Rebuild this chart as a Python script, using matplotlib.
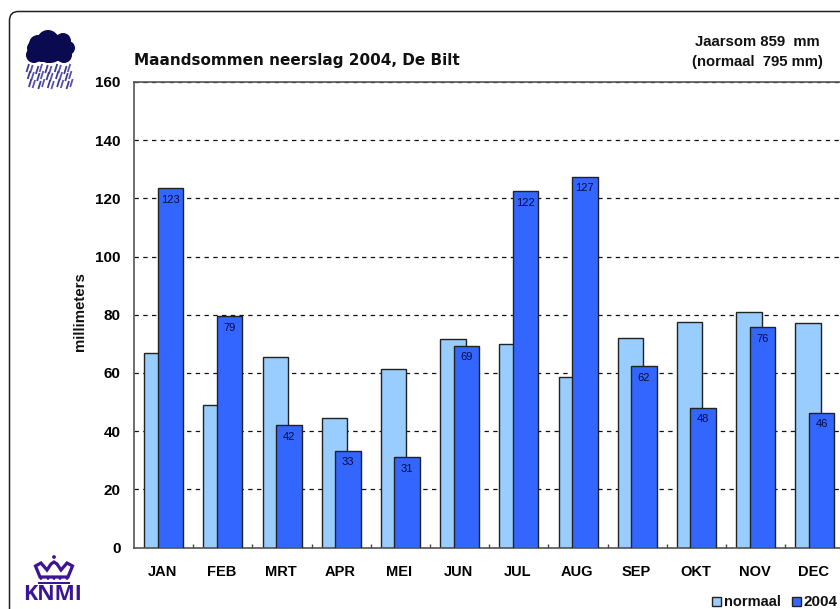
import numpy as np
from matplotlib import pyplot as plt
from matplotlib.patches import FancyBboxPatch, Circle, Rectangle, Polygon

plt.rcParams["font.family"] = ["Liberation Sans", "DejaVu Sans"]
plt.rcParams["font.weight"] = "bold"

#  -------------------------------------------  data  ------------------------------------------  #

months = ["JAN", "FEB", "MRT", "APR", "MEI", "JUN", "JUL", "AUG", "SEP", "OKT", "NOV", "DEC"]
normaal = [67, 49, 65.5, 44.5, 61.5, 71.5, 70, 58.5, 72, 77.5, 81, 77]
jaar2004 = [123.4, 79.4, 42, 33.3, 31, 69.3, 122.4, 127.3, 62.3, 48, 75.7, 46.4]
yticks = [0, 20, 40, 60, 80, 100, 120, 140, 160]

#  -------------------------------------------  plot  ------------------------------------------  #

W, H = 840, 609
fig = plt.figure(figsize=(W/100, H/100), dpi=100)

# overlay in pixel coordinates for frame and logos
bg = fig.add_axes([0, 0, 1, 1])
bg.set_xlim(0, W)
bg.set_ylim(H, 0)
bg.axis("off")
bg.add_patch(FancyBboxPatch((9.5, 11.5), 900, 700, boxstyle="round,pad=0,rounding_size=9",
                            fc="white", ec="#222222", lw=1.1))

# cloud
cloud = "#0a0a50"
for cx, cy, r in [(48, 41, 11), (38, 44, 9), (34, 48, 7), (34, 55, 8), (48, 55, 8), (63, 41, 8),
                  (68, 48, 7), (64, 55, 8), (50, 48, 15), (42, 50, 12), (59, 49, 12)]:
    bg.add_patch(Circle((cx, cy), r, fc=cloud, ec="none"))
# rain
for row, y0 in enumerate([64, 71, 79]):
    for k in range(10):
        x0 = 28 + k*4.7 + row*1.2 - (k % 2)
        col = "#5a50b0" if k % 2 else "#3c3c90"
        bg.plot([x0+1, x0-1.5], [y0+(k % 3), y0+8+(k % 3)], color=col, lw=1.3, solid_capstyle="butt")

# crown and KNMI
knmi = "#3c1496"
bg.add_patch(Polygon([(40, 577), (35.5, 566), (41, 563), (47, 570), (51, 564), (54, 562), (57, 564), (61, 570),
                      (67, 563), (72.5, 566), (68, 577)],
                     closed=True, fc="none", ec=knmi, lw=2.3))
bg.add_patch(Circle((54, 557), 1.9, fc=knmi, ec="none"))
bg.add_patch(Rectangle((38, 582), 32, 2.2, fc=knmi, ec="none"))
for xc in (41, 48, 54, 60, 67):
    bg.add_patch(Circle((xc, 578.5), 1.4, fc=knmi, ec="none"))
bg.text(53, 595, "KNMI", color=knmi, fontsize=15.5, ha="center", va="center", fontweight="bold",
        family=["Open Sans", "DejaVu Sans"])

# main axes, runs off the right edge of the picture like the original
ax_l, ax_r, ax_t, ax_b = 134, 844.5, 82, 547.5
ax = fig.add_axes([ax_l/W, 1-ax_b/H, (ax_r-ax_l)/W, (ax_b-ax_t)/H])
ax.patch.set_alpha(0)

x = np.arange(12)
w = 25.5/59.2
off = 6.75/59.2
ax.bar(x-off, normaal, w, color="#99ccff", edgecolor="#222222", lw=1, zorder=2, label="normaal")
ax.bar(x+off, jaar2004, w, color="#3366ff", edgecolor="#222222", lw=1, zorder=3, label="2004")

for xi, v in zip(x, jaar2004):
    ax.text(xi+off, v-3.9, str(round(v)), ha="center", va="center", fontsize=8, fontweight="normal",
            color="#0a0a40", zorder=4)

ax.set_xlim(-0.5, 11.5)
ax.set_ylim(0, 160)
ax.set_yticks(yticks)
ax.set_xticks(x-1/59.2)
ax.set_xticklabels(months)
ax.set_xticks(x[:-1]+0.5, minor=True)
ax.tick_params(axis="x", which="major", length=0, pad=12.5, labelsize=10.5)
ax.tick_params(axis="x", which="minor", direction="in", length=3, width=1, color="#444444")
ax.tick_params(axis="y", length=0, pad=9.5, labelsize=11)
ax.yaxis.grid(True, color="#111111", ls=(0, (3.5, 3.5)), lw=0.9, zorder=1)
ax.set_axisbelow(True)
for s in ("top", "right", "left", "bottom"):
    ax.spines[s].set_color("#555555")
    ax.spines[s].set_linewidth(1.2)

# text
bg.text(134.5, 60, "Maandsommen neerslag 2004, De Bilt", fontsize=11, ha="left", va="center", color="#111111",
        family=["DejaVu Sans"])
bg.text(757.5, 42, "Jaarsom 859  mm", fontsize=10.7, ha="center", va="center", color="#111111")
bg.text(757, 62, "(normaal  795 mm)", fontsize=10.7, ha="center", va="center", color="#111111")
bg.text(80, 312, "millimeters", fontsize=10.8, rotation=90, ha="center", va="center", color="#111111")

# legend
bg.add_patch(Rectangle((712, 597), 8.5, 9, fc="#99ccff", ec="#222222", lw=1))
bg.text(724, 602, "normaal", fontsize=10.5, ha="left", va="center", color="#111111")
bg.add_patch(Rectangle((792, 597), 8.5, 9, fc="#3366ff", ec="#222222", lw=1))
bg.text(804, 602, "2004", fontsize=11, ha="left", va="center", color="#111111")

plt.savefig("out.png", dpi=100)
